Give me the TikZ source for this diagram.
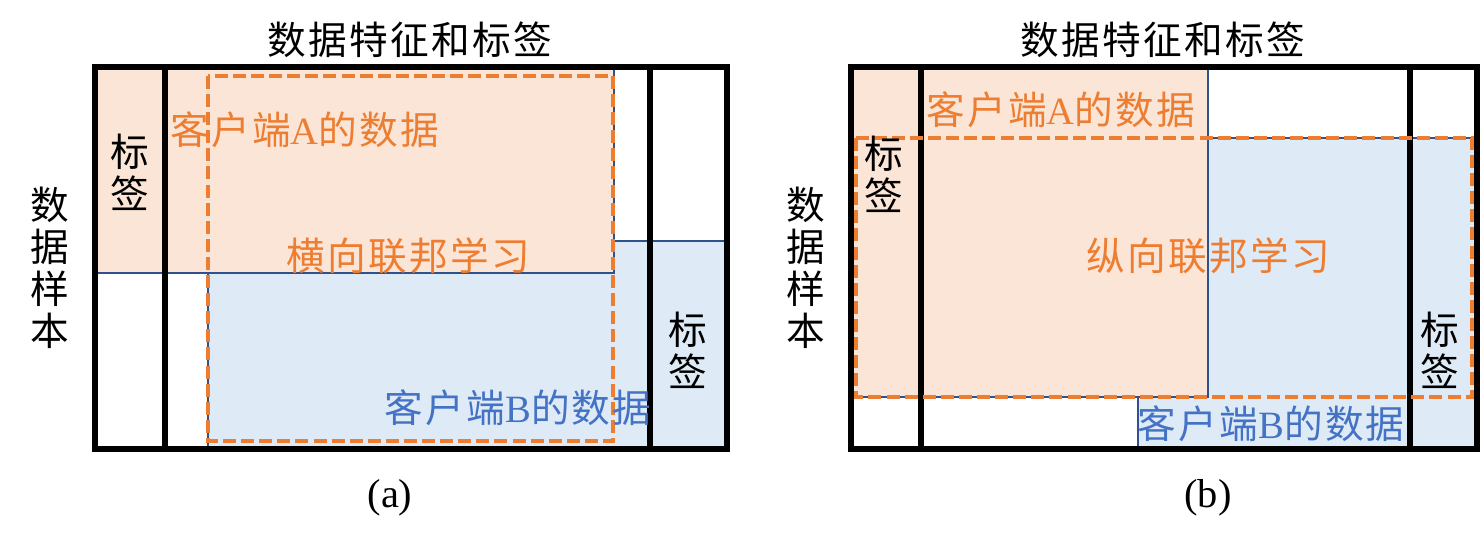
\documentclass[tikz,border=0pt]{standalone}
\usepackage{fontspec}
\setmainfont{Liberation Serif}
\newfontfamily\cjk[LetterSpace=6]{Noto Sans CJK SC}
\usepackage{tikz}
\tikzstyle{pinkbox} = [fill=pinkfill, draw=edgeblue, line width=0.8pt]
\tikzstyle{bluebox} = [fill=bluefill, draw=edgeblue, line width=0.8pt]
\tikzstyle{frame} = [line width=3.2pt, black]
\tikzstyle{fedbox} = [line width=2.8pt, draw=fedorange, dash pattern=on 7.4pt off 2.9pt]
\tikzstyle{cn} = [inner sep=0pt, font=\cjk\fontsize{22}{24}\selectfont]
\tikzstyle{vtext} = [cn, align=center]
\definecolor{pinkfill}{HTML}{FBE5D6}
\definecolor{bluefill}{HTML}{DEEBF7}
\definecolor{edgeblue}{HTML}{2F528F}
\definecolor{fedorange}{HTML}{ED7D31}
\definecolor{textblue}{HTML}{4472C4}
\newcommand{\clientdata}[1]{客户端{\rmfamily #1}的数据}

\begin{document}
\begin{tikzpicture}[x=0.02cm,y=-0.02cm]
			\useasboundingbox (0,0) rectangle (1483,546);
			% (a) horizontal
			\draw[bluebox] (208,241) rectangle (727,449);
			\draw[pinkbox] (95,67) rectangle (614,273);
			\draw[frame] (95,67) rectangle (727,449);
			\draw[frame] (165,67) -- (165,449);
			\draw[frame] (650,67) -- (650,449);
			\draw[fedbox] (208,76) rectangle (613,441);
			\node[cn] (titleA) at (410,40) {数据特征和标签};
			\node[vtext] (sampleA) at (50,268) {数\\据\\样\\本};
			\node[vtext] (labelAl) at (130,172) {标\\签};
			\node[vtext] (labelAr) at (688,350) {标\\签};
			\node[cn,anchor=west,fedorange] (dataAa) at (170,130) {\clientdata{A}};
			\node[cn,fedorange] (fedA) at (408,256) {横向联邦学习};
			\node[cn,anchor=east,textblue] (dataAb) at (652,408) {\clientdata{B}};
			\node[font=\fontsize{23}{26}\selectfont] (capA) at (390,498) {(a)};
			% (b) vertical
			\draw[bluebox] (1138,138) rectangle (1477,449);
			\draw[pinkbox] (851,67) rectangle (1208,397);
			\draw[frame] (851,67) rectangle (1477,449);
			\draw[frame] (921,67) -- (921,449);
			\draw[frame] (1410,67) -- (1410,449);
			\draw[fedbox] (856,138) rectangle (1472,397);
			\node[cn] (titleB) at (1163,40) {数据特征和标签};
			\node[vtext] (sampleB) at (806,268) {数\\据\\样\\本};
			\node[vtext] (labelBl) at (884,174) {标\\签};
			\node[vtext] (labelBr) at (1440,350) {标\\签};
			\node[cn,anchor=west,fedorange] (dataBa) at (926,110) {\clientdata{A}};
			\node[cn,fedorange] (fedB) at (1208,256) {纵向联邦学习};
			\node[cn,anchor=east,textblue] (dataBb) at (1405,424) {\clientdata{B}};
			\node[font=\fontsize{23}{26}\selectfont] (capB) at (1208,498) {(b)};
		\end{tikzpicture}
\end{document}
